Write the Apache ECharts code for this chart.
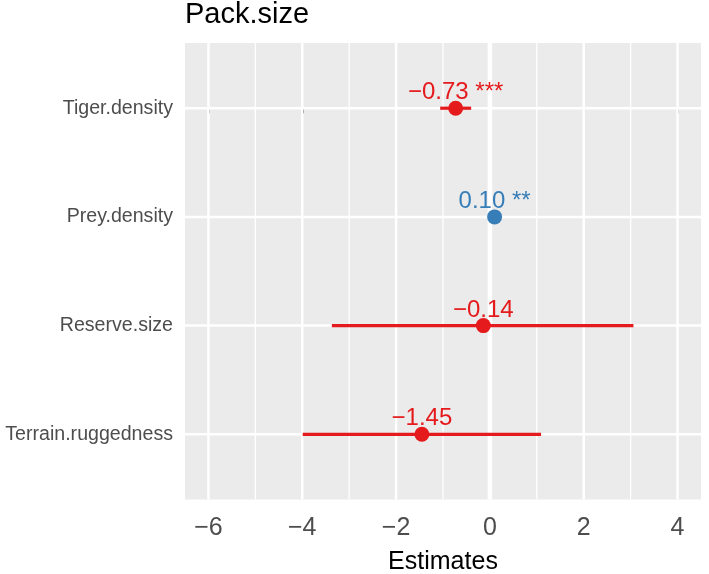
<!DOCTYPE html>
<html>
<head>
<meta charset="utf-8">
<style>
  html, body { margin: 0; padding: 0; background: #fff; }
  #chart { width: 709px; height: 574px; }
</style>
</head>
<body>
<div id="chart"></div>
<script src="https://cdn.jsdelivr.net/npm/echarts@6/dist/echarts.min.js"></script>
<script type="text/javascript">
    const terms = ['Tiger.density', 'Prey.density', 'Reserve.size', 'Terrain.ruggedness'];
    const estimates = [-0.73, 0.10, -0.14, -1.45];
    const ciLow = [-1.06, 0.05, -3.37, -3.99];
    const ciHigh = [-0.40, 0.15, 3.06, 1.09];
    const stars = ['***', '**', '', ''];
    const xTicks = [-6, -4, -2, 0, 2, 4];
    const xMinor = [-5, -3, -1, 1, 3];

    const RED = '#E41A1C';
    const BLUE = '#377EB8';
    const FONT = 'Liberation Sans, Arial, sans-serif';
    const X_MIN = -6.5, X_MAX = 4.5, Y_MIN = -0.6, Y_MAX = 3.6;

    const rows = terms.map((t, i) => i);
    const colorOf = v => v >= 0 ? BLUE : RED;
    const fmt = v => v.toFixed(2).replace('-', '\u2212');

    const chart = echarts.init(document.getElementById('chart'));

    // white panel grid lines: [value, 'v' | 'h', width]
    const gridData = []
        .concat(xMinor.map(v => [v, 'v', 1.3]))
        .concat(xTicks.map(v => [v, 'v', v === 0 ? 4.5 : 2.5]))
        .concat(rows.map(i => [i, 'h', 2.5]));

    chart.setOption({
        animation: false,
        textStyle: { fontFamily: FONT },
        title: {
            text: 'Pack.size',
            left: 185,
            top: 0,
            padding: 0,
            textStyle: { fontFamily: FONT, fontSize: 29, fontWeight: 'normal', color: '#000', lineHeight: 29 }
        },
        grid: {
            left: 185, right: 8, top: 43, bottom: 74.5,
            containLabel: false,
            outerBoundsMode: 'none',
            show: true, backgroundColor: '#EBEBEB', borderWidth: 0
        },
        xAxis: {
            type: 'value',
            min: X_MIN,
            max: X_MAX,
            name: 'Estimates',
            nameLocation: 'middle',
            nameGap: 50,
            nameTextStyle: { fontFamily: FONT, fontSize: 25, color: '#000' },
            axisLine: { show: false },
            splitLine: { show: false },
            axisTick: {
                show: true, length: 5, customValues: xTicks,
                lineStyle: { color: '#333', width: 1.5 }
            },
            axisLabel: {
                customValues: xTicks, margin: 16,
                fontFamily: FONT, fontSize: 25, color: '#4d4d4d',
                formatter: v => String(v).replace('-', '\u2212')
            }
        },
        yAxis: {
            type: 'value',
            inverse: true,
            min: Y_MIN,
            max: Y_MAX,
            axisLine: { show: false },
            splitLine: { show: false },
            axisTick: {
                show: true, length: 5, customValues: rows,
                lineStyle: { color: '#333', width: 1.5 }
            },
            axisLabel: {
                customValues: rows, margin: 12,
                fontFamily: FONT, fontSize: 19.6, color: '#4d4d4d',
                formatter: v => terms[Math.round(v)]
            }
        },
        series: [
            {
                type: 'custom',
                z: 1,
                silent: true,
                clip: false,
                data: gridData.map((d, k) => k),
                renderItem: (params, api) => {
                    const d = gridData[params.dataIndex];
                    const a = d[1] === 'v' ? api.coord([d[0], Y_MIN]) : api.coord([X_MIN, d[0]]);
                    const b = d[1] === 'v' ? api.coord([d[0], Y_MAX]) : api.coord([X_MAX, d[0]]);
                    return {
                        type: 'rect',
                        shape: d[1] === 'v'
                            ? { x: a[0] - d[2] / 2, y: a[1], width: d[2], height: b[1] - a[1] }
                            : { x: a[0], y: a[1] - d[2] / 2, width: b[0] - a[0], height: d[2] },
                        style: { fill: '#ffffff' }
                    };
                }
            },
            {
                type: 'custom',
                z: 2,
                data: rows.map(i => [ciLow[i], ciHigh[i], i]),
                renderItem: (params, api) => {
                    const a = api.coord([api.value(0), api.value(2)]);
                    const b = api.coord([api.value(1), api.value(2)]);
                    return {
                        type: 'line',
                        shape: { x1: a[0], y1: a[1], x2: b[0], y2: b[1] },
                        style: { stroke: colorOf(estimates[params.dataIndex]), lineWidth: 3.2 }
                    };
                }
            },
            {
                type: 'scatter',
                z: 3,
                symbolSize: 15,
                data: rows.map(i => ({
                    value: [estimates[i], i],
                    itemStyle: { color: colorOf(estimates[i]), opacity: 1 },
                    label: { color: colorOf(estimates[i]) }
                })),
                label: {
                    show: true,
                    position: 'top',
                    distance: -4,
                    fontFamily: FONT,
                    fontSize: 24,
                    formatter: p => fmt(estimates[p.dataIndex]) + (stars[p.dataIndex] ? ' ' + stars[p.dataIndex] : '')
                }
            }
        ]
    });
</script>
</body>
</html>
